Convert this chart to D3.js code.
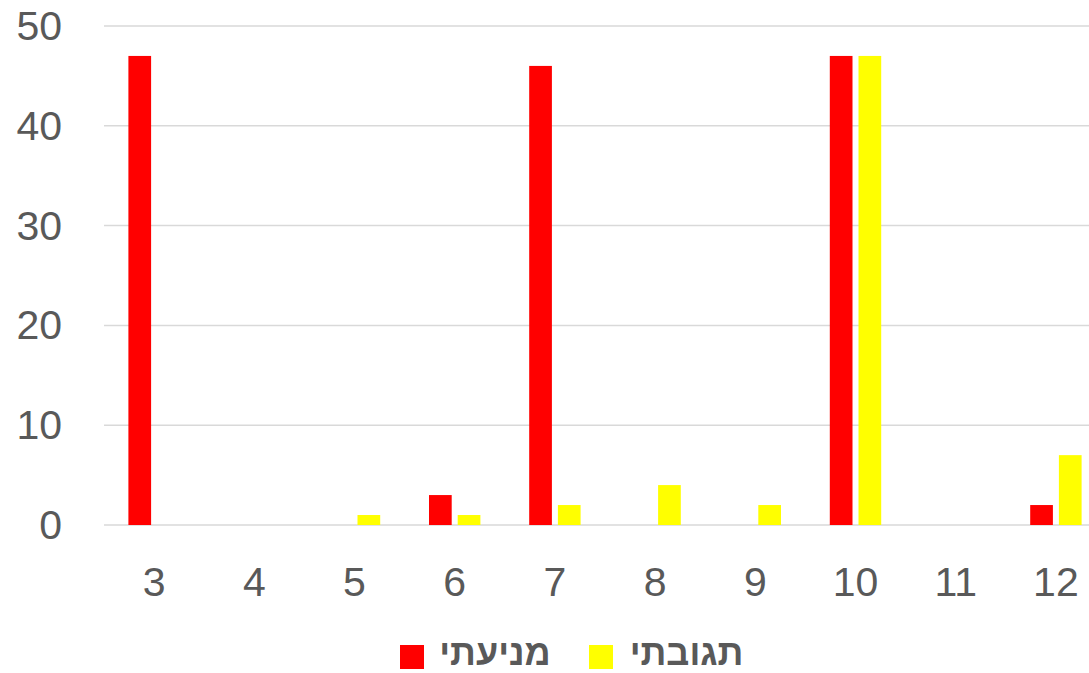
<!DOCTYPE html>
<html>
<head>
<meta charset="utf-8">
<script src="https://cdn.jsdelivr.net/npm/d3@7"></script>
<style>
  html, body { margin: 0; padding: 0; background: #fff; }
  svg { display: block; }
  text { font-family: "Liberation Sans", Arial, sans-serif; fill: #595959; }
</style>
</head>
<body>
<svg id="chart" width="1089" height="673"></svg>
<script>
// Categories along the x axis
const categories = ["3", "4", "5", "6", "7", "8", "9", "10", "11", "12"];
// Series names (legend labels)
const seriesNames = ["מניעתי", "תגובתי"];
const seriesColors = ["#ff0000", "#ffff00"];
// Values per series, one per category
const preventive = [47, 0, 0, 3, 46, 0, 0, 47, 0, 2];
const reactive   = [0, 0, 1, 1, 2, 4, 2, 47, 0, 7];
// Y tick values
const yTicks = [0, 10, 20, 30, 40, 50];

const seriesValues = [preventive, reactive];

const svg = d3.select("#chart");

const x0 = d3.scaleBand()
  .domain(categories)
  .range([104, 1106])
  .paddingInner(0.487)
  .paddingOuter(0.2435);

const x1 = d3.scaleBand()
  .domain(seriesNames)
  .range([0, x0.bandwidth()])
  .paddingInner(0.209)
  .paddingOuter(0);

const y = d3.scaleLinear().domain([0, 50]).range([525, 26]);

// Horizontal gridlines
svg.append("g")
  .selectAll("line")
  .data(yTicks)
  .join("line")
  .attr("x1", 104)
  .attr("x2", 1106)
  .attr("y1", d => y(d))
  .attr("y2", d => y(d))
  .attr("stroke", "#d9d9d9")
  .attr("stroke-width", 1.5);

// Y axis labels
svg.append("g")
  .selectAll("text")
  .data(yTicks)
  .join("text")
  .attr("x", 62)
  .attr("y", d => y(d))
  .attr("text-anchor", "end")
  .attr("dominant-baseline", "central")
  .attr("font-size", 41)
  .text(d => d);

// X axis labels
svg.append("g")
  .selectAll("text")
  .data(categories)
  .join("text")
  .attr("x", d => x0(d) + x0.bandwidth() / 2)
  .attr("y", 582)
  .attr("text-anchor", "middle")
  .attr("dominant-baseline", "central")
  .attr("font-size", 41)
  .text(d => d);

// Bars
const groups = svg.append("g")
  .selectAll("g")
  .data(categories)
  .join("g")
  .attr("transform", d => `translate(${x0(d)},0)`);

groups.selectAll("rect")
  .data((c, i) => seriesNames.map((s, k) => ({ s, k, v: seriesValues[k][i] })))
  .join("rect")
  .filter(d => d.v > 0)
  .attr("x", d => x1(d.s))
  .attr("width", x1.bandwidth())
  .attr("y", d => y(d.v))
  .attr("height", d => y(0) - y(d.v))
  .attr("fill", d => seriesColors[d.k]);

// Legend
const legendItems = [
  { name: seriesNames[0], color: seriesColors[0], sx: 400, tx: 495 },
  { name: seriesNames[1], color: seriesColors[1], sx: 589, tx: 686.5 }
];
const legend = svg.append("g");
legend.selectAll("rect")
  .data(legendItems)
  .join("rect")
  .attr("x", d => d.sx)
  .attr("y", 645)
  .attr("width", 24)
  .attr("height", 24)
  .attr("fill", d => d.color);
legend.selectAll("text")
  .data(legendItems)
  .join("text")
  .attr("x", d => d.tx)
  .attr("y", 665)
  .attr("text-anchor", "middle")
  .attr("font-size", 36)
  .attr("font-weight", "bold")
  .text(d => d.name);
</script>
</body>
</html>
